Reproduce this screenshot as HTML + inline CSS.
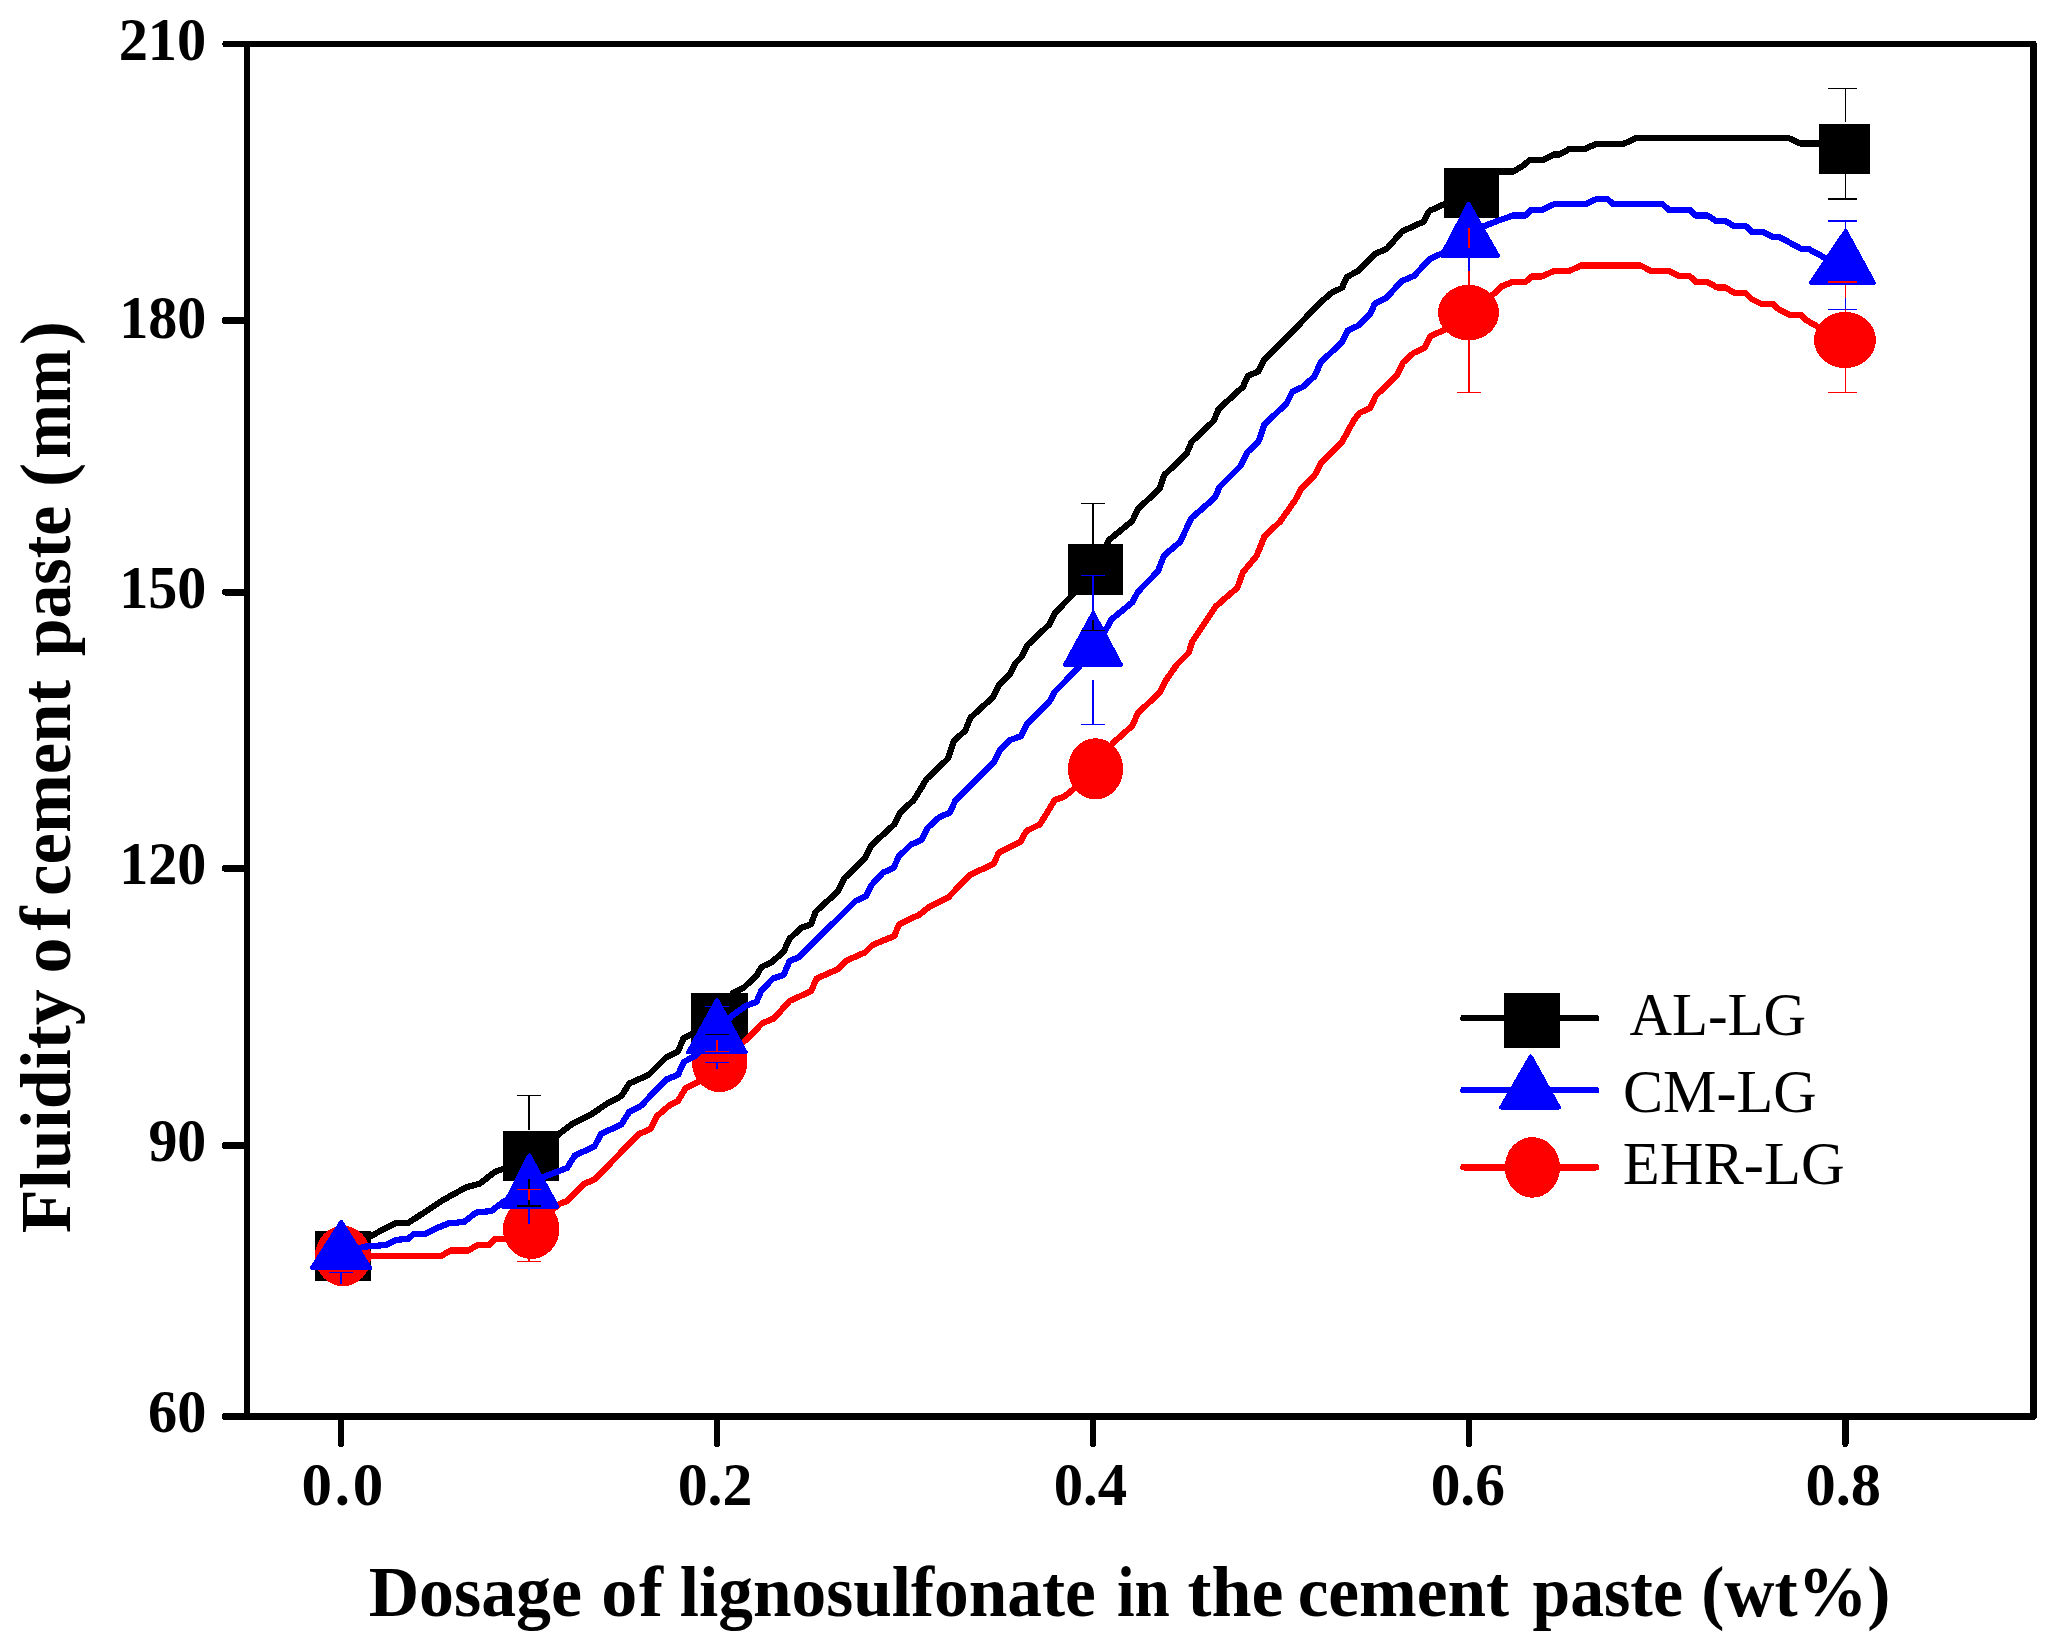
<!DOCTYPE html>
<html lang="en"><head><meta charset="utf-8"><title>Fluidity of cement paste vs lignosulfonate dosage</title>
<style>
html,body{margin:0;padding:0;background:#fff;}
body{width:2060px;height:1650px;overflow:hidden;}
svg{display:block;}
text{font-family:"Liberation Serif","Times New Roman",serif;fill:#000;font-kerning:none;font-variant-ligatures:none;white-space:pre;}
.b{font-weight:bold;}
.tk{font-weight:bold;font-size:61px;}
.ttl{font-weight:bold;font-size:72px;}
.lg{font-size:62px;}
.cv{fill:none;stroke-width:6.2;stroke-linejoin:round;stroke-linecap:round;}
</style></head><body>
<svg role="img" aria-label="Fluidity of cement paste versus dosage of lignosulfonate" width="2060" height="1650" viewBox="0 0 2060 1650" shape-rendering="crispEdges">
<rect width="2060" height="1650" fill="#fff"/>
<g stroke="#000" stroke-linecap="round" fill="none">
<line x1="225.3" y1="44" x2="2033.4" y2="44" stroke-width="6"/>
<line x1="225.3" y1="1416.4" x2="2033.4" y2="1416.4" stroke-width="7"/>
<line x1="247.2" y1="44" x2="247.2" y2="1416.4" stroke-width="6" stroke-linecap="butt"/>
<line x1="2033.4" y1="44" x2="2033.4" y2="1416.4" stroke-width="6.4"/>
<line x1="225.3" y1="320.5" x2="247" y2="320.5" stroke-width="7"/>
<line x1="225.3" y1="592" x2="247" y2="592" stroke-width="7"/>
<line x1="225.3" y1="868.3" x2="247" y2="868.3" stroke-width="7"/>
<line x1="225.3" y1="1145.6" x2="247" y2="1145.6" stroke-width="7"/>
<line x1="341" y1="1416.4" x2="341" y2="1443.8" stroke-width="6.4"/>
<line x1="716.9" y1="1416.4" x2="716.9" y2="1443.8" stroke-width="6.4"/>
<line x1="1093.1" y1="1416.4" x2="1093.1" y2="1443.8" stroke-width="6.4"/>
<line x1="1469" y1="1416.4" x2="1469" y2="1443.8" stroke-width="6.4"/>
<line x1="1845.4" y1="1416.4" x2="1845.4" y2="1443.8" stroke-width="6.4"/>
</g>
<text class="tk" x="118.65" textLength="87.68" lengthAdjust="spacingAndGlyphs" y="60.4">210</text>
<text class="tk" x="119.15" textLength="87.17" lengthAdjust="spacingAndGlyphs" y="337.5">180</text>
<text class="tk" x="119.15" textLength="87.17" lengthAdjust="spacingAndGlyphs" y="608.2">150</text>
<text class="tk" x="119.15" textLength="87.17" lengthAdjust="spacingAndGlyphs" y="884.4">120</text>
<text class="tk" x="148.42" textLength="57.89" lengthAdjust="spacingAndGlyphs" y="1161.2">90</text>
<text class="tk" x="148.01" textLength="58.31" lengthAdjust="spacingAndGlyphs" y="1432.4">60</text>
<text class="tk" x="301.58" letter-spacing="2.75" y="1504.6">0.0</text>
<text class="tk" x="677.72" textLength="74.75" lengthAdjust="spacingAndGlyphs" y="1504.6">0.2</text>
<text class="tk" x="1053.66" textLength="73.43" lengthAdjust="spacingAndGlyphs" y="1504.6">0.4</text>
<text class="tk" x="1430.64" textLength="74.31" lengthAdjust="spacingAndGlyphs" y="1504.6">0.6</text>
<text class="tk" x="1805.50" textLength="75.61" lengthAdjust="spacingAndGlyphs" y="1504.6">0.8</text>
<text class="ttl" y="1616.2"><tspan x="368.67" textLength="213.33" lengthAdjust="spacingAndGlyphs">Dosage</tspan> <tspan x="601.16" letter-spacing="1.76">of</tspan> <tspan x="679.75" textLength="416.05" lengthAdjust="spacingAndGlyphs">lignosulfonate</tspan> <tspan x="1117.01" textLength="52.85" lengthAdjust="spacingAndGlyphs">in</tspan> <tspan x="1187.54" textLength="95.92" lengthAdjust="spacingAndGlyphs">the</tspan> <tspan x="1297.63" textLength="211.47" lengthAdjust="spacingAndGlyphs">cement</tspan> <tspan x="1532.54" textLength="150.41" lengthAdjust="spacingAndGlyphs">paste</tspan> <tspan x="1701.14" textLength="189.21" lengthAdjust="spacingAndGlyphs">(wt%)</tspan></text>
<text class="ttl" transform="rotate(-90)" y="70.2"><tspan x="-1233.23" textLength="244.03" lengthAdjust="spacingAndGlyphs">Fluidity</tspan> <tspan x="-973.54" letter-spacing="7.06">of</tspan> <tspan x="-895.92" textLength="216.03" lengthAdjust="spacingAndGlyphs">cement</tspan> <tspan x="-656.26" textLength="150.61" lengthAdjust="spacingAndGlyphs">paste</tspan> <tspan x="-487.06" letter-spacing="0.00">(</tspan><tspan x="-458.76" textLength="109.49" lengthAdjust="spacingAndGlyphs">mm</tspan><tspan x="-344.92" letter-spacing="0.00">)</tspan></text>
<polyline class="cv" stroke="#000" points="343.0,1256.0 371.0,1236.0 384.0,1229.0 396.3,1222.9 408.0,1223.0 425.4,1211.7 443.0,1200.0 466.0,1187.4 480.0,1183.5 495.0,1171.8 503.0,1169.0 531.0,1156.0 559.0,1134.0 573.0,1123.3 592.4,1113.6 608.0,1103.0 621.5,1096.0 629.3,1083.5 648.7,1074.8 666.2,1057.3 677.9,1051.5 683.7,1037.9 692.4,1034.0 719.0,1018.0 733.0,993.0 743.0,988.3 756.5,975.7 761.4,967.0 772.0,962.0 783.7,951.5 789.5,938.8 801.0,928.0 811.0,924.3 815.7,911.7 838.0,891.3 844.0,878.6 865.0,858.0 871.0,845.6 894.4,824.3 900.0,812.6 913.8,800.0 920.8,788.7 926.6,779.0 948.0,758.6 953.8,741.0 965.4,730.5 970.3,717.9 992.6,697.5 998.4,685.8 1010.0,674.0 1016.0,662.5 1021.7,656.7 1027.6,645.0 1049.0,624.7 1054.8,613.0 1071.0,596.5 1095.0,569.0 1109.0,540.0 1132.4,520.8 1138.0,509.0 1159.6,488.7 1164.3,475.0 1186.6,453.8 1191.5,442.0 1213.8,420.8 1218.6,409.0 1243.0,386.8 1247.8,376.0 1258.4,371.3 1264.3,359.6 1299.0,324.7 1320.6,302.3 1332.0,292.6 1342.0,287.8 1346.8,277.0 1357.5,271.3 1375.0,253.8 1386.6,249.0 1402.0,231.5 1423.5,221.7 1429.3,211.0 1443.9,204.3 1471.0,193.0 1485.0,171.5 1513.6,171.5 1523.0,165.7 1529.6,160.2 1542.3,160.2 1554.0,154.4 1559.8,154.4 1569.5,148.9 1585.0,148.9 1596.7,143.7 1623.9,143.7 1635.5,138.3 1789.0,138.3 1800.6,143.5 1844.0,143.5"/>
<rect x="315.1" y="1231.2" width="55.8" height="49.7" fill="#000"/>
<rect x="503.1" y="1131.1" width="55.8" height="49.8" fill="#000"/>
<rect x="691" y="993.2" width="56.8" height="49.8" fill="#000"/>
<rect x="1068" y="544" width="55.0" height="50.6" fill="#000"/>
<rect x="1443.9" y="168" width="55.1" height="49.9" fill="#000"/>
<rect x="1819" y="124" width="51.0" height="49.9" fill="#000"/>
<polyline class="cv" stroke="#f00" points="343.0,1256.0 441.0,1256.0 450.7,1250.5 468.0,1250.5 478.0,1245.0 489.5,1245.0 495.0,1239.0 505.0,1239.0 531.0,1228.0 559.4,1204.0 567.0,1201.0 584.7,1183.5 594.4,1179.6 639.0,1134.0 650.7,1129.0 656.5,1116.5 670.0,1104.9 678.0,1101.0 685.6,1088.3 697.3,1082.5 719.0,1062.0 744.9,1040.8 762.3,1023.3 774.0,1018.4 789.5,1001.0 810.9,991.3 816.7,978.6 838.0,969.0 845.8,961.0 865.0,952.4 873.0,944.7 894.4,936.0 899.0,924.3 919.6,914.6 929.3,906.8 948.7,897.0 970.0,874.8 993.4,864.0 999.0,852.4 1020.6,841.7 1026.4,831.0 1040.0,824.3 1054.8,800.0 1064.5,796.5 1074.0,788.7 1095.0,769.0 1113.0,743.0 1132.4,725.6 1138.0,713.0 1159.6,692.6 1165.4,681.0 1177.0,664.5 1188.7,652.8 1192.6,641.0 1216.0,606.2 1237.3,587.8 1243.0,572.2 1256.7,555.7 1264.5,536.3 1280.0,521.7 1295.3,500.0 1301.0,488.7 1314.8,475.0 1320.6,463.5 1342.0,442.0 1353.6,420.8 1359.4,413.0 1370.0,408.0 1376.0,395.5 1397.3,375.0 1403.0,362.5 1413.8,352.8 1424.5,348.0 1430.3,336.3 1443.0,330.5 1468.5,312.6 1493.6,294.0 1502.0,286.2 1513.2,281.7 1525.8,281.7 1531.7,276.4 1542.3,276.4 1554.0,270.9 1569.5,270.9 1581.2,265.4 1640.4,265.4 1651.0,270.9 1668.5,270.9 1679.2,276.3 1689.9,276.3 1695.7,282.0 1707.4,282.0 1717.0,287.4 1724.9,287.4 1734.8,293.0 1745.6,293.0 1751.5,299.0 1761.5,304.0 1773.0,304.0 1779.3,309.8 1789.3,314.7 1800.5,314.7 1806.3,320.2 1816.5,326.0 1845.0,340.0"/>
<ellipse cx="343" cy="1256" rx="28" ry="30.2" fill="#f00"/>
<ellipse cx="531.2" cy="1229" rx="28.2" ry="30" fill="#f00"/>
<ellipse cx="719.7" cy="1062" rx="27.8" ry="30.2" fill="#f00"/>
<ellipse cx="1095.5" cy="768.8" rx="27.6" ry="30.6" fill="#f00"/>
<ellipse cx="1468.5" cy="312.6" rx="30.5" ry="27.8" fill="#f00"/>
<ellipse cx="1845" cy="340" rx="31" ry="28" fill="#f00"/>
<polyline class="cv" stroke="#00f" points="341.0,1253.0 365.0,1246.6 386.6,1245.0 396.0,1239.8 408.0,1239.0 413.8,1234.0 425.4,1234.0 437.0,1228.0 448.7,1223.3 464.0,1222.0 476.0,1212.6 491.5,1211.0 503.0,1202.0 529.0,1190.0 544.0,1176.7 567.0,1168.0 575.0,1155.3 594.4,1146.6 601.0,1134.0 621.5,1124.3 629.3,1111.7 641.0,1105.8 666.0,1079.6 678.0,1074.8 683.7,1062.0 695.0,1056.0 717.0,1035.0 731.0,1016.5 745.8,1005.8 756.5,1002.0 761.4,990.3 773.0,978.6 783.7,974.8 789.5,961.0 799.0,957.3 855.5,901.0 866.0,896.0 872.0,884.5 882.7,872.8 893.4,868.0 899.0,856.3 910.9,844.7 921.5,839.8 927.4,828.0 939.0,817.5 949.7,812.6 955.7,800.0 993.6,762.5 999.4,750.9 1010.0,740.0 1020.8,736.3 1026.6,724.7 1049.0,702.3 1054.8,691.7 1077.0,669.3 1093.0,650.0 1107.0,627.6 1111.0,619.8 1132.4,602.3 1138.0,591.7 1158.0,571.3 1164.0,555.5 1180.0,542.0 1191.5,518.0 1215.0,497.5 1219.6,486.8 1241.0,465.4 1247.8,451.8 1258.4,442.0 1264.3,424.7 1286.6,403.3 1292.4,391.7 1303.0,386.8 1314.8,376.0 1320.6,362.5 1342.0,342.0 1347.8,330.5 1358.4,325.6 1370.0,314.0 1375.0,303.3 1385.6,298.4 1402.0,281.0 1413.8,276.0 1430.3,258.6 1441.0,253.8 1468.5,240.0 1484.0,226.2 1497.7,220.8 1513.2,215.5 1525.8,215.5 1531.7,209.7 1542.3,209.7 1554.0,204.3 1585.0,204.3 1596.7,199.0 1607.4,199.0 1613.2,204.3 1662.7,204.3 1668.5,209.7 1689.9,209.7 1695.7,215.5 1707.4,215.5 1716.0,220.9 1724.9,220.9 1734.5,226.3 1746.0,226.3 1752.0,232.0 1763.0,232.0 1772.5,236.9 1779.3,236.9 1800.6,248.6 1808.0,248.6 1825.2,258.0 1845.0,266.0"/>
<polygon points="341.2,1222 311.9,1268 370.1,1268" fill="#00f" stroke="#00f" stroke-width="4" stroke-linejoin="round"/>
<polygon points="529.3,1155.4 503,1206.7 557.4,1206.7" fill="#00f" stroke="#00f" stroke-width="4" stroke-linejoin="round"/>
<polygon points="717,1000 688,1052.4 745.8,1052.4" fill="#00f" stroke="#00f" stroke-width="4" stroke-linejoin="round"/>
<polygon points="1093.2,613 1065,664.8 1121,664.8" fill="#00f" stroke="#00f" stroke-width="4" stroke-linejoin="round"/>
<polygon points="1468.5,204 1441.4,255.7 1498,255.7" fill="#00f" stroke="#00f" stroke-width="4" stroke-linejoin="round"/>
<polygon points="1845.6,231 1810.9,282.8 1873.9,282.8" fill="#00f" stroke="#00f" stroke-width="4" stroke-linejoin="round"/>
<g fill="none" shape-rendering="crispEdges">
<line x1="329" y1="1272.5" x2="353" y2="1272.5" stroke="#00f" stroke-width="1.6"/>
<line x1="341" y1="1272.5" x2="341" y2="1284" stroke="#00f" stroke-width="2.2"/>
<line x1="517" y1="1095.4" x2="541" y2="1095.4" stroke="#000" stroke-width="1.3"/>
<line x1="529" y1="1095.4" x2="529" y2="1129.5" stroke="#000" stroke-width="2.2"/>
<line x1="529" y1="1179" x2="529" y2="1205.8" stroke="#000" stroke-width="2.2"/>
<line x1="517" y1="1205.8" x2="541" y2="1205.8" stroke="#000" stroke-width="2"/>
<line x1="517" y1="1189.3" x2="541" y2="1189.3" stroke="#f00" stroke-width="1.3"/>
<line x1="529" y1="1189.3" x2="529" y2="1200" stroke="#f00" stroke-width="2.2"/>
<line x1="529" y1="1258" x2="529" y2="1261.7" stroke="#f00" stroke-width="2.2"/>
<line x1="517" y1="1261.7" x2="541" y2="1261.7" stroke="#f00" stroke-width="1.3"/>
<line x1="529" y1="1208.7" x2="529" y2="1223.7" stroke="#00f" stroke-width="2.2"/>
<line x1="705" y1="1006.8" x2="729" y2="1006.8" stroke="#00f" stroke-width="1.3"/>
<line x1="705" y1="1034.6" x2="729" y2="1034.6" stroke="#000" stroke-width="1.3"/>
<line x1="717" y1="1040" x2="717" y2="1051.5" stroke="#f00" stroke-width="2.2"/>
<line x1="705" y1="1051.5" x2="729" y2="1051.5" stroke="#f00" stroke-width="1.3"/>
<line x1="705" y1="1062.5" x2="729" y2="1062.5" stroke="#00f" stroke-width="1.3"/>
<line x1="717" y1="1062.5" x2="717" y2="1069" stroke="#00f" stroke-width="2.2"/>
<line x1="1081" y1="503.3" x2="1105.2" y2="503.3" stroke="#000" stroke-width="1.3"/>
<line x1="1093.2" y1="503.3" x2="1093.2" y2="545" stroke="#000" stroke-width="2.2"/>
<line x1="1093.2" y1="620" x2="1093.2" y2="630.5" stroke="#000" stroke-width="2.2"/>
<line x1="1081" y1="630.5" x2="1105.2" y2="630.5" stroke="#000" stroke-width="1.6"/>
<line x1="1081" y1="575.5" x2="1105.2" y2="575.5" stroke="#00f" stroke-width="1.3"/>
<line x1="1093.2" y1="575.5" x2="1093.2" y2="612" stroke="#00f" stroke-width="1.6"/>
<line x1="1093.2" y1="680" x2="1093.2" y2="724.3" stroke="#00f" stroke-width="1.6"/>
<line x1="1081" y1="724.3" x2="1105.2" y2="724.3" stroke="#00f" stroke-width="1.3"/>
<line x1="1468.7" y1="227.6" x2="1468.7" y2="247.6" stroke="#f00" stroke-width="2.0"/>
<line x1="1468.7" y1="257" x2="1468.7" y2="271.3" stroke="#00f" stroke-width="1.6"/>
<line x1="1468.7" y1="271.3" x2="1468.7" y2="286" stroke="#f00" stroke-width="1.6"/>
<line x1="1468.7" y1="339" x2="1468.7" y2="392.4" stroke="#f00" stroke-width="1.6"/>
<line x1="1457" y1="392.4" x2="1481" y2="392.4" stroke="#f00" stroke-width="1.3"/>
<line x1="1828" y1="88.4" x2="1857" y2="88.4" stroke="#000" stroke-width="1.3"/>
<line x1="1845.3" y1="88.4" x2="1845.3" y2="122" stroke="#000" stroke-width="1.3"/>
<line x1="1845.3" y1="173.9" x2="1845.3" y2="199" stroke="#000" stroke-width="1.3"/>
<line x1="1828" y1="199" x2="1857" y2="199" stroke="#000" stroke-width="2"/>
<line x1="1828" y1="221" x2="1857" y2="221" stroke="#00f" stroke-width="2"/>
<line x1="1845.3" y1="221" x2="1845.3" y2="230" stroke="#00f" stroke-width="1.3"/>
<line x1="1828" y1="282" x2="1857" y2="282" stroke="#f00" stroke-width="2"/>
<line x1="1845.3" y1="284.8" x2="1845.3" y2="297.9" stroke="#f00" stroke-width="1.3"/>
<line x1="1845.3" y1="297.9" x2="1845.3" y2="309.2" stroke="#00f" stroke-width="1.3"/>
<line x1="1828" y1="309.2" x2="1857" y2="309.2" stroke="#00f" stroke-width="1.3"/>
<line x1="1845.3" y1="309.2" x2="1845.3" y2="313" stroke="#f00" stroke-width="1.3"/>
<line x1="1845.3" y1="367" x2="1845.3" y2="392.5" stroke="#f00" stroke-width="1.3"/>
<line x1="1828" y1="392.5" x2="1857" y2="392.5" stroke="#f00" stroke-width="1.3"/>
</g>
<line x1="1463.6" y1="1018.1" x2="1596" y2="1018.1" stroke="#000" stroke-width="6.6" stroke-linecap="round"/>
<rect x="1504.2" y="993.3" width="55.7" height="54.4" fill="#000"/>
<line x1="1463.6" y1="1090.1" x2="1596" y2="1090.1" stroke="#00f" stroke-width="6.6" stroke-linecap="round"/>
<polygon points="1530.7,1056.4 1501.1,1107.5 1558.9,1107.5" fill="#00f" stroke="#00f" stroke-width="4" stroke-linejoin="round"/>
<line x1="1463.6" y1="1167.2" x2="1596" y2="1167.2" stroke="#f00" stroke-width="6.6" stroke-linecap="round"/>
<ellipse cx="1532.4" cy="1167.4" rx="27.6" ry="30.3" fill="#f00"/>
<text class="lg" x="1629.42" textLength="176.62" lengthAdjust="spacingAndGlyphs" y="1034.9">AL-LG</text>
<text class="lg" x="1623.04" textLength="193.54" lengthAdjust="spacingAndGlyphs" y="1111.5">CM-LG</text>
<text class="lg" x="1622.76" textLength="221.83" lengthAdjust="spacingAndGlyphs" y="1183.9">EHR-LG</text>
</svg>
</body></html>
